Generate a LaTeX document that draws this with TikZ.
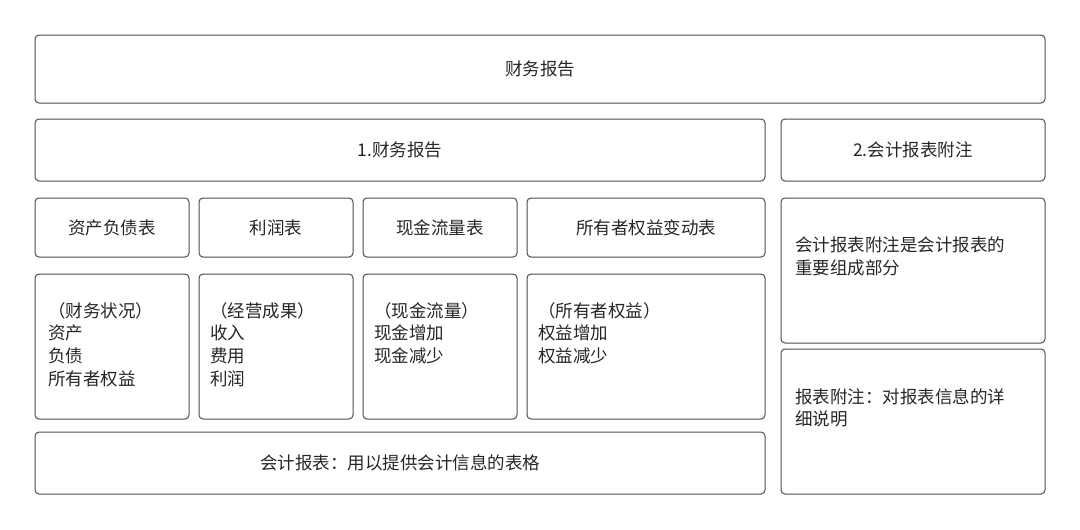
\documentclass[tikz,border=0pt]{standalone}
\usepackage{fontspec}
\newfontfamily\cjk{Noto Sans CJK SC}
\begin{document}
\begin{tikzpicture}[x=1pt,y=-1pt,
  box/.style={draw=black!70,line width=1pt,rounded corners=4pt,anchor=north west,inner sep=0pt,outer sep=0pt},
  txt/.style={font=\cjk\fontsize{17.5}{22.8}\selectfont,text=black!85},
  ltxt/.style={txt,anchor=north west,align=left,inner sep=0pt}]
\useasboundingbox (0,0) rectangle (1080,530);
\newcommand\bx[6]{\node[box,minimum width=#4-#2,minimum height=#5-#3] (#1) at (#2,#3) {}; \node[txt] at (#1.center) {#6};}
\bx{top}{35}{35}{1045}{103}{财务报告}
\bx{fr}{35}{119}{765}{181}{1.财务报告}
\bx{fz}{781}{119}{1045}{181}{2.会计报表附注}
\bx{h1}{35}{198}{189}{257}{资产负债表}
\bx{h2}{199}{198}{353}{257}{利润表}
\bx{h3}{363}{198}{517}{257}{现金流量表}
\bx{h4}{527}{198}{765}{257}{所有者权益变动表}
\bx{c1}{35}{274}{189}{419}{}
\bx{c2}{199}{274}{353}{419}{}
\bx{c3}{363}{274}{517}{419}{}
\bx{c4}{527}{274}{765}{419}{}
\bx{bt}{35}{432}{765}{494}{会计报表：用以提供会计信息的表格}
\bx{r1}{781}{198}{1045}{343}{}
\bx{r2}{781}{349}{1045}{494}{}
\node[ltxt] (t1) at (48,302) {（财务状况）\\资产\\负债\\所有者权益};
\node[ltxt] (t2) at (210,302) {（经营成果）\\收入\\费用\\利润};
\node[ltxt] (t3) at (374,302) {（现金流量）\\现金增加\\现金减少};
\node[ltxt] (t4) at (538,302) {（所有者权益）\\权益增加\\权益减少};
\node[ltxt] (t5) at (795,237) {会计报表附注是会计报表的\\重要组成部分};
\node[ltxt] (t6) at (795,388) {报表附注：对报表信息的详\\细说明};
\end{tikzpicture}
\end{document}
